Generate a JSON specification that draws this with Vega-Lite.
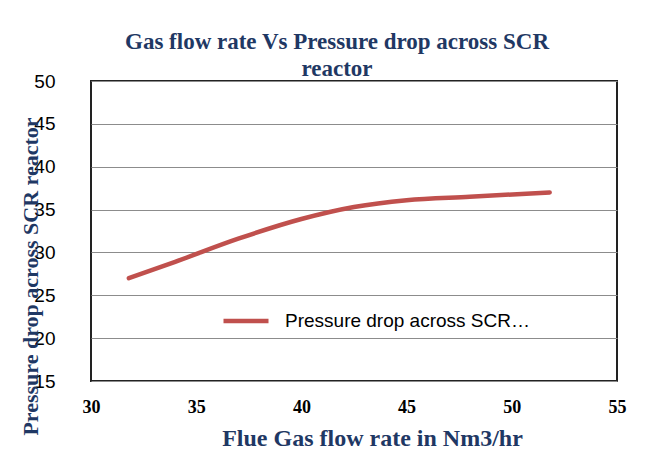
{
  "$schema": "https://vega.github.io/schema/vega-lite/v6.json",
  "autosize": {"type": "none"},
  "width": 526,
  "height": 300,
  "padding": {"left": 91, "top": 81, "right": 42, "bottom": 71},
  "background": "white",
  "title": {
    "text": ["Gas flow rate Vs Pressure drop across SCR", "reactor"],
    "font": "Liberation Serif",
    "fontSize": 23,
    "fontWeight": "bold",
    "color": "#1F3864",
    "lineHeight": 27,
    "anchor": "middle",
    "dx": -17,
    "offset": -9
  },
  "data": {
    "values": [
      {"flow": 31.8, "dp": 27.0, "series": "Pressure drop across SCR reactor"},
      {"flow": 34.0, "dp": 28.9, "series": "Pressure drop across SCR reactor"},
      {"flow": 37.0, "dp": 31.6, "series": "Pressure drop across SCR reactor"},
      {"flow": 40.0, "dp": 33.9, "series": "Pressure drop across SCR reactor"},
      {"flow": 42.5, "dp": 35.3, "series": "Pressure drop across SCR reactor"},
      {"flow": 45.0, "dp": 36.1, "series": "Pressure drop across SCR reactor"},
      {"flow": 48.0, "dp": 36.5, "series": "Pressure drop across SCR reactor"},
      {"flow": 51.8, "dp": 37.0, "series": "Pressure drop across SCR reactor"}
    ]
  },
  "mark": {"type": "line", "interpolate": "monotone", "strokeWidth": 4.5, "strokeCap": "round"},
  "encoding": {
    "x": {
      "field": "flow", "type": "quantitative",
      "scale": {"domain": [30, 55], "nice": false},
      "axis": {
        "values": [30, 35, 40, 45, 50, 55],
        "title": "Flue Gas flow rate in Nm3/hr",
        "titleFont": "Liberation Serif", "titleFontSize": 24, "titleFontWeight": "bold", "titleColor": "#1F3864",
        "titleX": 281, "titleY": 64, "titleAlign": "center", "titleBaseline": "alphabetic",
        "labelFont": "Liberation Serif", "labelFontSize": 18, "labelFontWeight": "bold", "labelColor": "black",
        "labelFlush": false,
        "labelPadding": 17, "ticks": false, "domain": false, "grid": false
      }
    },
    "y": {
      "field": "dp", "type": "quantitative",
      "scale": {"domain": [15, 50], "nice": false},
      "axis": {
        "values": [15, 20, 25, 30, 35, 40, 45, 50],
        "title": "Pressure drop across SCR reactor",
        "titleFont": "Liberation Serif", "titleFontSize": 22, "titleFontWeight": "bold", "titleColor": "#1F3864",
        "titleX": -61, "titleY": 195, "titleAlign": "center", "titleBaseline": "middle", "titleAngle": -90,
        "labelFont": "Liberation Sans", "labelFontSize": 19, "labelColor": "black",
        "labelFlush": false,
        "labelPadding": 36, "ticks": false, "domain": false,
        "grid": true, "gridColor": "#8c8c8c", "gridWidth": 1.2
      }
    },
    "color": {
      "field": "series", "type": "nominal",
      "scale": {"range": ["#C0504D"]},
      "legend": {
        "title": null,
        "orient": "none",
        "legendX": 130,
        "legendY": 215,
        "symbolType": "stroke",
        "symbolSize": 2025,
        "symbolStrokeWidth": 4.5,
        "labelFont": "Liberation Sans",
        "labelFontSize": 19,
        "labelColor": "black",
        "labelLimit": 250,
        "labelOffset": 14
      }
    }
  },
  "config": {
    "view": {"stroke": "#222", "strokeWidth": 2}
  }
}
